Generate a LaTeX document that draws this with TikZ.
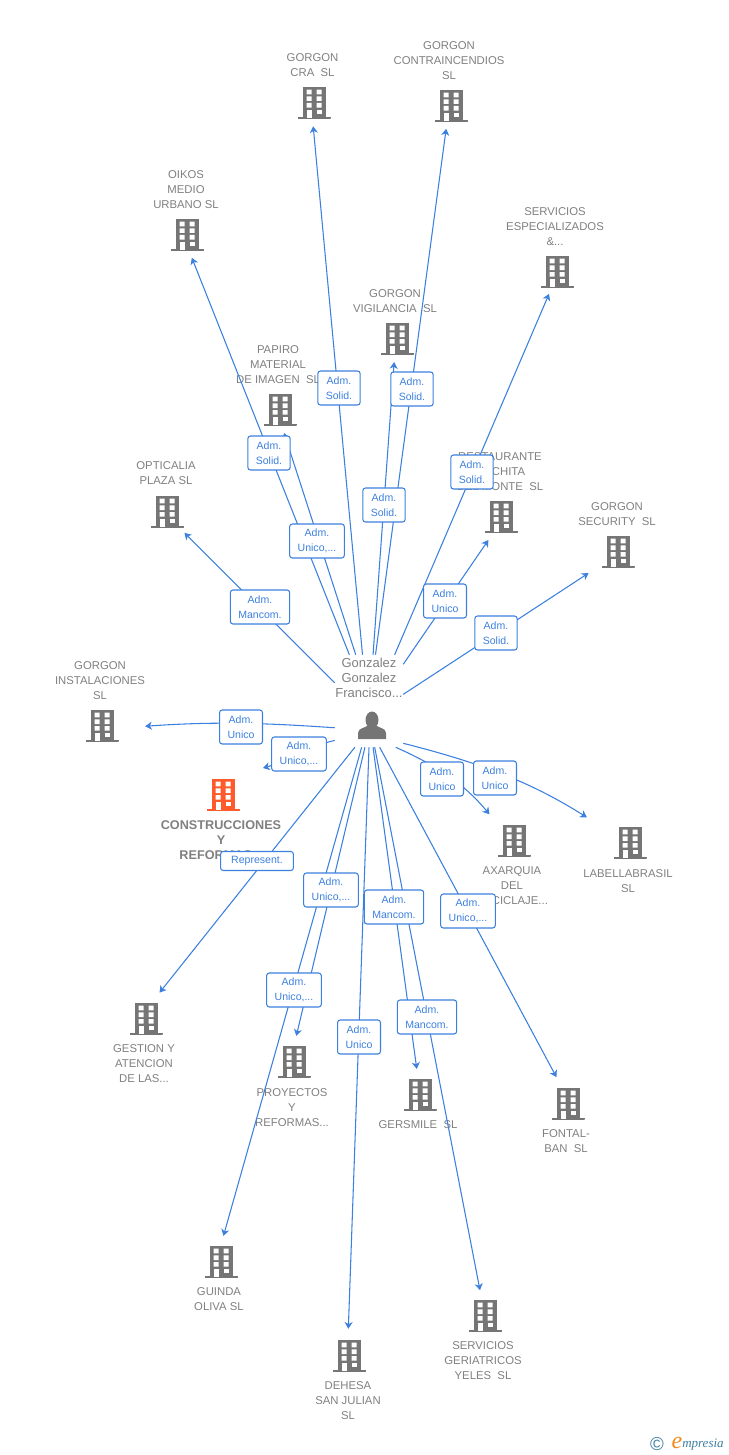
\documentclass[tikz,border=0pt]{standalone}
\usepackage{fontspec}
\setmainfont{Liberation Sans}
\newfontfamily\logofont{Liberation Serif}
\usetikzlibrary{arrows.meta}
\definecolor{linkblue}{HTML}{3C80DF}
\definecolor{bldgray}{HTML}{757575}
\definecolor{txtgray}{HTML}{808080}
\definecolor{bldorange}{HTML}{FF5A2B}
\definecolor{logoblue}{HTML}{3E7FA0}
\definecolor{logoorange}{HTML}{F28A1E}
\tikzset{
  bldg/.style={circle,minimum size=34.5pt,inner sep=0pt,path picture={
    \begin{scope}[shift={(path picture bounding box.center)}]
      \fill[#1] (-11.5,-16) rectangle (11.5,15);
      \fill[#1] (-16.5,14) rectangle (16.5,16);
      \foreach \wy in {2.7,9.3,16}
        \fill[white] (-7.5,\wy-16) rectangle +(5,4.7) (2.5,\wy-16) rectangle +(5,4.7);
      \fill[white] (2.5,6.7) rectangle +(5,4.7);
      \fill[white] (-7.5,6.7) rectangle (-2.5,15);
    \end{scope}}},
  bldg/.default=bldgray,
  nm/.style={align=center,text=txtgray,inner sep=0pt,yshift=-0.75pt,font=\fontsize{8.5}{11.25}\selectfont},
  nmbig/.style={align=center,text=txtgray,inner sep=0pt,yshift=-0.75pt,font=\fontsize{9.5}{11.25}\selectfont\bfseries},
  conn/.style={draw=linkblue,line width=0.8pt,-{Stealth[length=5pt,width=6pt,inset=1.5pt]}},
  gap/.style={shorten >=#1*0.75pt},
  lbl/.style={draw=linkblue,fill=white,rounded corners=2pt,line width=0.8pt,align=center,text=linkblue,
    inner xsep=6pt,inner ysep=0pt,minimum height=25.5pt,font=\fontsize{7.9}{11.25}\selectfont},
}
\begin{document}
\begin{tikzpicture}[x=0.75pt,y=-0.75pt]
  \useasboundingbox (0,0) rectangle (728,1455);
  % centre person
  \node[minimum width=51pt,minimum height=69pt,inner sep=0pt,path picture={
    \begin{scope}[shift={(path picture bounding box.center)}]
      \fill[bldgray] (3,19) ellipse (6.5 and 8.5);
      \fill[bldgray] (-11,38) -- (-11,32) .. controls (-11,27) and (-4,27) .. (0,24)
        -- (6,24) .. controls (10,27) and (17,27) .. (17,32) -- (17,38) -- cycle;
    \end{scope}}] (owner) at (369,701) {};
  \node[align=center,text=txtgray,inner sep=0pt,font=\fontsize{9.75}{11.25}\selectfont] (ownerName) at (369,678) {Gonzalez\\Gonzalez\\Francisco...};
  % companies
  \node[bldg] (cra) at (314,103) {};
  \node[nm] (craName) at (312.5,64.5) {GORGON\\CRA~~SL};
  \node[bldg] (contra) at (451,106) {};
  \node[nm] (contraName) at (449,60) {GORGON\\CONTRAINCENDIOS\\SL};
  \node[bldg] (oikos) at (187,235) {};
  \node[nm] (oikosName) at (186,189) {OIKOS\\MEDIO\\URBANO SL};
  \node[bldg] (servesp) at (557,272) {};
  \node[nm] (servespName) at (555,226) {SERVICIOS\\ESPECIALIZADOS\\\&...};
  \node[bldg] (vigil) at (397,339) {};
  \node[nm] (vigilName) at (395,300.5) {GORGON\\VIGILANCIA~~SL};
  \node[bldg] (papiro) at (280,410) {};
  \node[nm] (papiroName) at (278,364) {PAPIRO\\MATERIAL\\DE IMAGEN~~SL};
  \node[bldg] (optica) at (167,512) {};
  \node[nm] (opticaName) at (166,472.5) {OPTICALIA\\PLAZA SL};
  \node[bldg] (resta) at (501,517) {};
  \node[nm] (restaName) at (500,471) {RESTAURANTE\\LA CHITA\\DEL MONTE~~SL};
  \node[bldg] (secur) at (618,552) {};
  \node[nm] (securName) at (617,513.5) {GORGON\\SECURITY~~SL};
  \node[bldg] (insta) at (102,726) {};
  \node[nm] (instaName) at (100,680) {GORGON\\INSTALACIONES\\SL};
  \node[bldg=bldorange] (constr) at (223,795) {};
  \node[nmbig] (constrName) at (221,839) {CONSTRUCCIONES\\Y\\REFORMAS...};
  \node[bldg] (axar) at (514,841) {};
  \node[nm] (axarName) at (512,885) {AXARQUIA\\DEL\\RECICLAJE...};
  \node[bldg] (labella) at (630,843) {};
  \node[nm] (labellaName) at (628,880.5) {LABELLABRASIL\\SL};
  \node[bldg] (gestion) at (146,1019) {};
  \node[nm] (gestionName) at (144,1063) {GESTION Y\\ATENCION\\DE LAS...};
  \node[bldg] (proyec) at (294,1062) {};
  \node[nm] (proyecName) at (292,1107) {PROYECTOS\\Y\\REFORMAS...};
  \node[bldg] (gersm) at (420,1095) {};
  \node[nm] (gersmName) at (418,1124) {GERSMILE~~SL};
  \node[bldg] (fontal) at (568,1104) {};
  \node[nm] (fontalName) at (566,1140.5) {FONTAL-\\BAN~~SL};
  \node[bldg] (guinda) at (221,1262) {};
  \node[nm] (guindaName) at (219,1298.5) {GUINDA\\OLIVA SL};
  \node[bldg] (geria) at (485,1316) {};
  \node[nm] (geriaName) at (483,1360) {SERVICIOS\\GERIATRICOS\\YELES~~SL};
  \node[bldg] (dehesa) at (349,1356) {};
  \node[nm] (dehesaName) at (348,1400) {DEHESA\\SAN JULIAN\\SL};
  \coordinate (constrTip) at (263,768);
  % links
  \draw[conn] (owner.98.7) -- (cra.-92.6);
  \draw[conn] (owner.82.6) -- (contra.-102);
  \draw[conn] (owner.113.5) -- (oikos.-78);
  \draw[conn] (owner.61.5) -- (servesp.-110);
  \draw[conn] (owner.85) -- (vigil.-97);
  \draw[conn] (owner.106.9) -- (papiro.-80);
  \draw[conn,gap=4] (owner.152) -- (optica.-51);
  \draw[conn,gap=3] (owner.47.4) -- (resta.-118);
  \draw[conn,gap=13] (owner.11.6) -- (secur.-143);
  \draw[conn,gap=20] (owner.218.4) to[bend right=4] (insta.-4);
  \draw[conn] (owner.229.6) .. controls +(-30,7) and +(15,-4) .. (constrTip);
  \draw[conn,gap=13] (owner.300) to[bend left=13] (axar.134);
  \draw[conn,gap=27] (owner.309.7) to[bend left=9] (labella.151);
  \draw[conn,gap=6.5] (owner.253) -- (gestion.66);
  \draw[conn,gap=3] (owner.265) -- (proyec.86);
  \draw[conn,gap=3] (owner.275) -- (gersm.97);
  \draw[conn,gap=6] (owner.283.4) -- (fontal.112);
  \draw[conn,gap=3] (owner.261.3) -- (guinda.86);
  \draw[conn,gap=3] (owner.277.4) -- (geria.101);
  \draw[conn,gap=4] (owner.270) -- (dehesa.92);
  % link labels
  \node[lbl] (lblCra) at (339,388) {Adm.\\Solid.};
  \node[lbl] (lblContra) at (412,389) {Adm.\\Solid.};
  \node[lbl] (lblOikos) at (269,453) {Adm.\\Solid.};
  \node[lbl] (lblServesp) at (472,472) {Adm.\\Solid.};
  \node[lbl] (lblVigil) at (384,505) {Adm.\\Solid.};
  \node[lbl] (lblPapiro) at (317,541) {Adm.\\Unico,...};
  \node[lbl] (lblOptica) at (260,607) {Adm.\\Mancom.};
  \node[lbl] (lblResta) at (445,601) {Adm.\\Unico};
  \node[lbl] (lblSecur) at (496,633) {Adm.\\Solid.};
  \node[lbl] (lblInsta) at (241,727) {Adm.\\Unico};
  \node[lbl] (lblConstr) at (299,754) {Adm.\\Unico,...};
  \node[lbl] (lblAxar) at (442,779) {Adm.\\Unico};
  \node[lbl] (lblLabella) at (495,778) {Adm.\\Unico};
  \node[lbl,minimum height=14.25pt,inner xsep=8pt] (lblGestion) at (257,861) {Represent.};
  \node[lbl] (lblProyec) at (331,890) {Adm.\\Unico,...};
  \node[lbl] (lblGersm) at (394,907) {Adm.\\Mancom.};
  \node[lbl] (lblFontal) at (468,911) {Adm.\\Unico,...};
  \node[lbl] (lblGuinda) at (294,990) {Adm.\\Unico,...};
  \node[lbl] (lblGeria) at (427,1017) {Adm.\\Mancom.};
  \node[lbl] (lblDehesa) at (359,1037) {Adm.\\Unico};
  % logo
  \node[text=logoblue,inner sep=0pt,font=\fontsize{14}{14}\selectfont] (logoC) at (657,1444) {©};
  \node[text=logoorange,inner sep=0pt,font=\logofont\itshape\fontsize{18}{18}\selectfont] (logoE) at (677,1443) {e};
  \node[text=logoblue,inner sep=0pt,anchor=base west,font=\logofont\itshape\fontsize{9.75}{12}\selectfont] (logoTxt) at (682,1447) {mpresia};
\end{tikzpicture}
\end{document}
